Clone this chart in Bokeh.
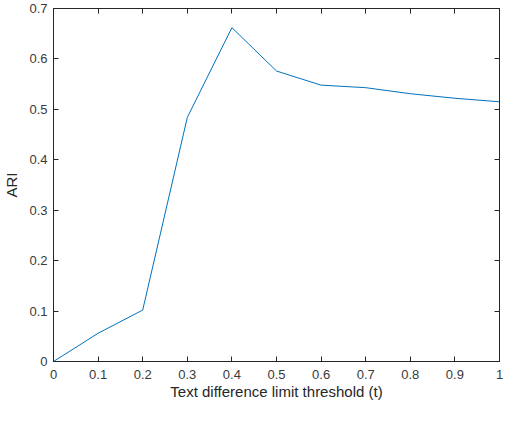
from bokeh.plotting import figure
from bokeh.models import LinearAxis, FixedTicker, Range1d
from bokeh.embed import file_html
from bokeh.resources import INLINE

thresholds = [0.0, 0.1, 0.2, 0.3, 0.4, 0.5, 0.6, 0.7, 0.8, 0.9, 1.0]
ari = [0.0, 0.056, 0.102, 0.484, 0.662, 0.576, 0.548, 0.543, 0.531, 0.522, 0.515]

x_ticks = [0, 0.1, 0.2, 0.3, 0.4, 0.5, 0.6, 0.7, 0.8, 0.9, 1]
x_tick_labels = ["0", "0.1", "0.2", "0.3", "0.4", "0.5", "0.6", "0.7", "0.8", "0.9", "1"]
y_ticks = [0, 0.1, 0.2, 0.3, 0.4, 0.5, 0.6, 0.7]
y_tick_labels = ["0", "0.1", "0.2", "0.3", "0.4", "0.5", "0.6", "0.7"]

x_label = "Text difference limit threshold (t)"
y_label = "ARI"

FONT = "Liberation Sans"
AX = "#262626"

p = figure(width=506, height=405, output_backend="svg", toolbar_location=None,
           x_range=Range1d(0, 1), y_range=Range1d(0, 0.7),
           min_border_left=48, min_border_right=7, min_border_top=8, min_border_bottom=44)
p.grid.visible = False
p.outline_line_color = AX
p.outline_line_width = 1

p.line(thresholds, ari, line_color="#0072BD", line_width=1)

def style(ax, ticks, labels, show):
    ax.ticker = FixedTicker(ticks=ticks)
    ax.major_label_overrides = {t: l for t, l in zip(ticks, labels)}
    ax.major_tick_in = 5
    ax.major_tick_out = 0
    ax.minor_tick_line_color = None
    ax.axis_line_color = AX
    ax.major_tick_line_color = AX
    ax.major_label_text_font = FONT
    if show:
        ax.major_label_text_font_size = "13px"
        ax.major_label_text_color = "#3a3a3a"
        ax.axis_label_text_font = FONT
        ax.axis_label_text_font_size = "15px"
        ax.axis_label_text_font_style = "normal"
        ax.axis_label_text_color = AX
    else:
        ax.major_label_text_font_size = "0px"
        ax.major_label_standoff = 0

xa = p.xaxis[0]
style(xa, x_ticks, x_tick_labels, True)
xa.axis_label = x_label
xa.major_label_standoff = 8
xa.axis_label_standoff = 1

ya = p.yaxis[0]
style(ya, y_ticks, y_tick_labels, True)
ya.axis_label = y_label
ya.major_label_standoff = 6
ya.axis_label_standoff = 6

top = LinearAxis()
style(top, x_ticks, [""] * len(x_ticks), False)
p.add_layout(top, "above")
right = LinearAxis()
style(right, y_ticks, [""] * len(y_ticks), False)
p.add_layout(right, "right")

open("out.html", "w").write(file_html(p, INLINE))
